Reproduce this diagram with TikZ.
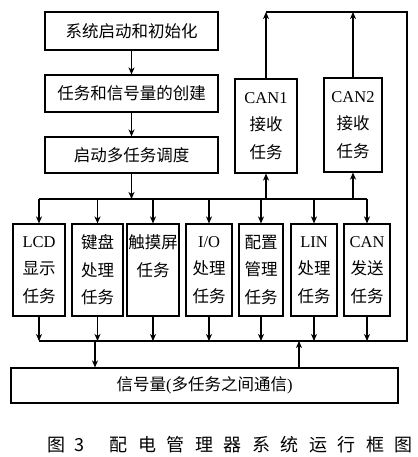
\documentclass[tikz,border=0pt]{standalone}
\usepackage{fontspec}
\setmainfont{Liberation Serif}
\newfontfamily\cjk{Noto Sans CJK SC}
\usetikzlibrary{arrows.meta}
\newcommand\lat[1]{{\rmfamily #1}}
\newcommand\capsp{\hspace{10.5pt}}
\begin{document}
\begin{tikzpicture}[x=1pt,y=-1pt,line width=1.1pt,
  box/.style={draw,line width=1.1pt,inner sep=0pt,align=center,
    font=\cjk\fontsize{16.5}{27.5}\selectfont},
  arr/.style={-{Stealth[length=7pt,width=6pt,inset=2pt]}}]
\useasboundingbox (0,0) rectangle (417,457);
% top flow
\node[box,minimum width=173pt,minimum height=38pt] (init) at (131.5,31) {系统启动和初始化};
\node[box,minimum width=173pt,minimum height=37pt] (create) at (131.5,93.5) {任务和信号量的创建};
\node[box,minimum width=173pt,minimum height=36pt] (sched) at (131.5,155) {启动多任务调度};
\draw[arr] (init.south) -- (create.north);
\draw[arr] (create.south) -- (sched.north);
% CAN receive tasks
\node[box,minimum width=62pt,minimum height=94pt] (can1) at (266,126) {\lat{CAN1}\\接收\\任务};
\node[box,minimum width=58pt,minimum height=94pt] (can2) at (353,125) {\lat{CAN2}\\接收\\任务};
% lower tasks
\node[box,minimum width=52pt,minimum height=92pt] (lcd) at (39,270) {\lat{LCD}\\显示\\任务};
\node[box,minimum width=51pt,minimum height=92pt] (kb) at (97.5,270) {键盘\\处理\\任务};
\node[box,minimum width=52pt,minimum height=92pt] (touch) at (153,270) {触摸屏\\任务\\\phantom{任务}};
\node[box,minimum width=46pt,minimum height=92pt] (io) at (209,270) {\lat{I/O}\\处理\\任务};
\node[box,minimum width=44pt,minimum height=92pt] (cfg) at (261,270) {配置\\管理\\任务};
\node[box,minimum width=46pt,minimum height=92pt] (lin) at (314,270) {\lat{LIN}\\处理\\任务};
\node[box,minimum width=46pt,minimum height=92pt] (cans) at (367,270) {\lat{CAN}\\发送\\任务};
% signal box
\node[box,minimum width=387pt,minimum height=35pt] (sig) at (204.5,385.5) {信号量\lat{(}多任务之间通信\lat{)}};
% distribution line
\coordinate (dl) at (39,199);
\draw[arr] (sched.south) -- (sched.south |- dl);
\draw (lcd.north |- dl) -- (cans.north |- dl);
\foreach \n in {lcd,kb,touch,io,cfg,lin,cans}
  \draw[arr] (\n.north |- dl) -- (\n.north);
\draw[arr] (can1.south |- dl) -- (can1.south);
\draw[arr] (can2.south |- dl) -- (can2.south);
% top return line
\coordinate (tr) at (407,12);
\coordinate (cr) at (407,341);
\draw[arr] (can1.north) -- (can1.north |- tr);
\draw[arr] (can2.north) -- (can2.north |- tr);
\draw (can1.north |- tr) -- (tr) -- (cr) -- (lcd.south |- cr);
\foreach \n in {lcd,kb,touch,io,cfg,lin,cans}
  \draw[arr] (\n.south) -- (\n.south |- cr);
\coordinate (sdn) at (95,341);
\coordinate (sup) at (299,341);
\draw[arr] (sdn) -- (sdn |- sig.north);
\draw[arr] (sup |- sig.north) -- (sup);
% caption
\node[font=\cjk\fontsize{18}{18}\selectfont,anchor=west,inner sep=0pt] (cap) at (47,445)
  {图\hspace{9pt}3\hspace{25pt}配\capsp 电\capsp 管\capsp 理\capsp 器\capsp 系\capsp 统\capsp 运\capsp 行\capsp 框\capsp 图};
\end{tikzpicture}
\end{document}
